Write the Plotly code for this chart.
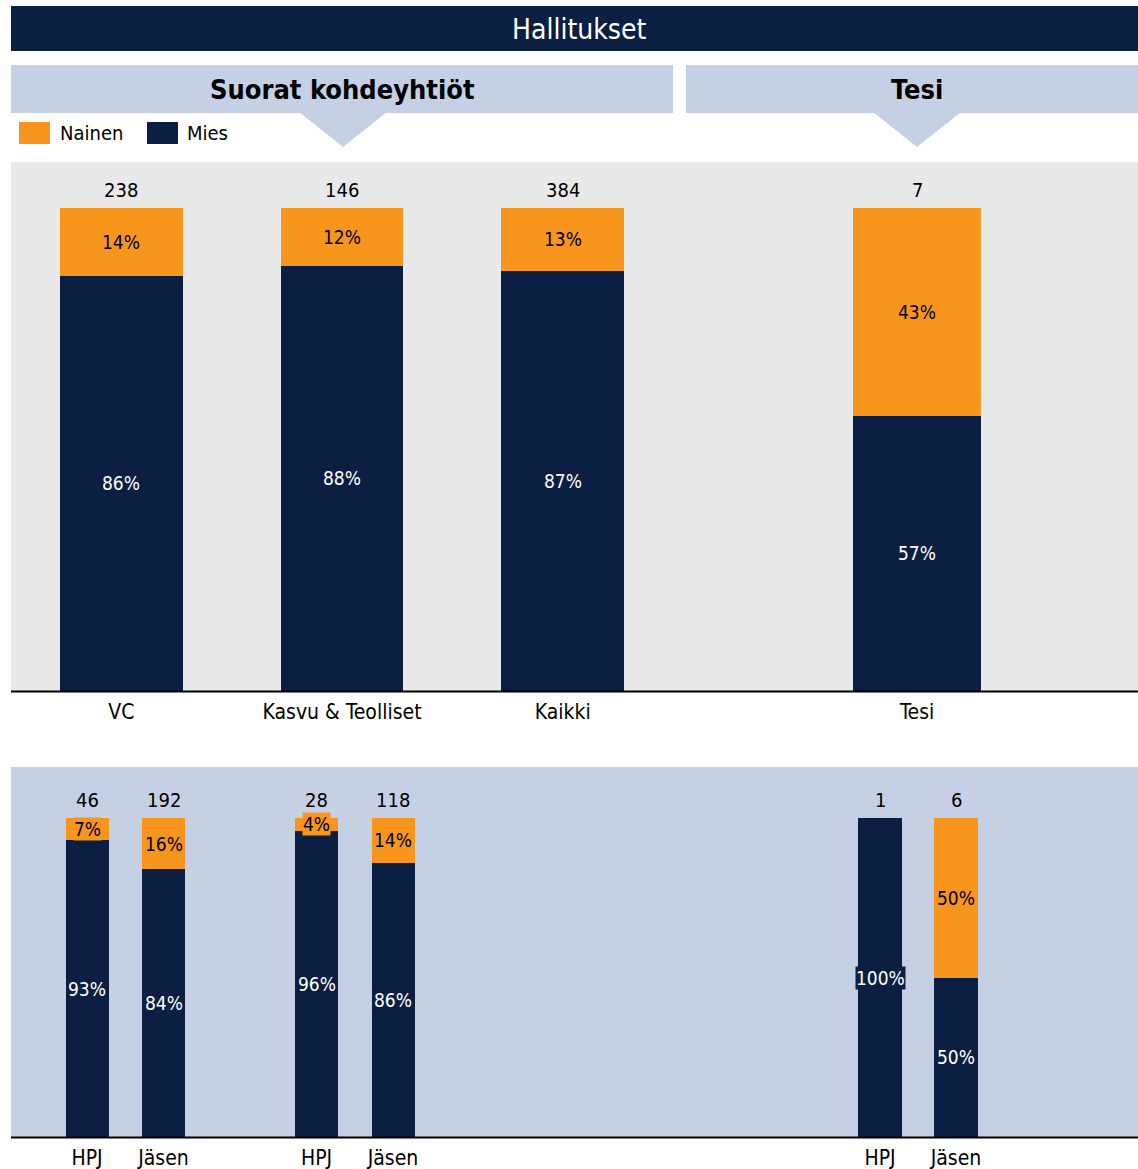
import plotly.graph_objects as go

# ---------------- data ----------------
top_categories = ["VC", "Kasvu & Teolliset", "Kaikki"]
top_totals = [238, 146, 384]
top_nainen = [14, 12, 13]
top_mies = [86, 88, 87]

tesi_categories = ["Tesi"]
tesi_totals = [7]
tesi_nainen = [43]
tesi_mies = [57]

bottom_ids = ["VC|HPJ", "VC|Jäsen", "Kasvu|HPJ", "Kasvu|Jäsen"]
bottom_labels = ["HPJ", "Jäsen", "HPJ", "Jäsen"]
bottom_totals = [46, 192, 28, 118]
bottom_nainen = [7, 16, 4, 14]
bottom_mies = [93, 84, 96, 86]

tesi_bottom_ids = ["Tesi|HPJ", "Tesi|Jäsen"]
tesi_bottom_labels = ["HPJ", "Jäsen"]
tesi_bottom_totals = [1, 6]
tesi_bottom_nainen = [0, 50]
tesi_bottom_mies = [100, 50]

# ---------------- style ----------------
W, H = 1138, 1169
NAVY = "#0B1F42"
ORANGE = "#F8951D"
LIGHT = "#C5D0E4"
GREY = "#E9E9E9"
FONT = "DejaVu Sans Condensed, DejaVu Sans, sans-serif"
FS = 20
FS_PCT = 19
FS_TICK = 21


def px(x):
    return x / W


def py(y):
    return 1 - y / H


fig = go.Figure()

panels = [
    # (x ids, tick labels, totals, nainen, mies, axis suffix, bar width)
    (top_categories, top_categories, top_totals, top_nainen, top_mies, "", 0.557),
    (tesi_categories, tesi_categories, tesi_totals, tesi_nainen, tesi_mies, "2", 0.579),
    (bottom_ids, bottom_labels, bottom_totals, bottom_nainen, bottom_mies, "3", 0.562),
    (tesi_bottom_ids, tesi_bottom_labels, tesi_bottom_totals, tesi_bottom_nainen,
     tesi_bottom_mies, "4", 0.566),
]

annotations = []
for ids, labels, totals, nainen, mies, sfx, wdt in panels:
    xa = "x" + sfx
    ya = "y" + sfx
    fig.add_trace(go.Bar(x=ids, y=mies, name="Mies", marker_color=NAVY,
                         marker_line_width=0, width=wdt, xaxis=xa, yaxis=ya,
                         showlegend=False, hoverinfo="skip"))
    fig.add_trace(go.Bar(x=ids, y=nainen, name="Nainen", marker_color=ORANGE,
                         marker_line_width=0, width=wdt, xaxis=xa, yaxis=ya,
                         showlegend=False, hoverinfo="skip"))
    for xi, t, n, m in zip(ids, totals, nainen, mies):
        annotations.append(dict(x=xi, y=n + m, xref=xa, yref=ya, text=str(t),
                                showarrow=False, yanchor="bottom", yshift=4,
                                font=dict(family=FONT, size=FS, color="black")))
        annotations.append(dict(x=xi, y=m / 2, xref=xa, yref=ya, text=f"{m}%",
                                showarrow=False, bgcolor=NAVY, borderpad=0,
                                font=dict(family=FONT, size=FS_PCT, color="white")))
        if n > 0:
            annotations.append(dict(x=xi, y=m + n / 2, xref=xa, yref=ya,
                                    text=f"{n}%", showarrow=False, bgcolor=ORANGE,
                                    borderpad=0,
                                    font=dict(family=FONT, size=FS_PCT, color="black")))


def label(x, y, text, size, color, xanchor="center"):
    return dict(x=px(x), y=py(y), xref="paper", yref="paper", text=text,
                xanchor=xanchor, yanchor="middle", showarrow=False,
                font=dict(family=FONT, size=size, color=color))


annotations += [
    label(579, 29, "Hallitukset", 28, "white"),
    label(342, 90, "<b>Suorat kohdeyhtiöt</b>", 27, "black"),
    label(917, 90, "<b>Tesi</b>", 27, "black"),
    label(58, 133, "Nainen", FS, "black", "left"),
    label(185, 133, "Mies", FS, "black", "left"),
]


def rect(x0, y0, x1, y1, color):
    return dict(type="rect", xref="paper", yref="paper", x0=px(x0), x1=px(x1),
                y0=py(y1), y1=py(y0), fillcolor=color, line_width=0, layer="below")


def tri(xl, xr, xt, yb, yt, color):
    path = f"M {px(xl)},{py(yb)} L {px(xr)},{py(yb)} L {px(xt)},{py(yt)} Z"
    return dict(type="path", xref="paper", yref="paper", path=path,
                fillcolor=color, line_width=0, layer="below")


def hline(x0, x1, y, color, width):
    return dict(type="line", xref="paper", yref="paper", x0=px(x0), x1=px(x1),
                y0=py(y), y1=py(y), line=dict(color=color, width=width), layer="above")


shapes = [
    rect(11, 6, 1138, 51, NAVY),
    rect(11, 65, 673, 113, LIGHT),
    tri(299, 387, 343, 112, 147, LIGHT),
    rect(686, 65, 1138, 113, LIGHT),
    tri(873, 961, 917, 112, 147, LIGHT),
    rect(19, 122, 50, 144, ORANGE),
    rect(147, 122, 178, 144, NAVY),
    rect(11, 162, 1138, 691, GREY),
    rect(11, 767, 1138, 1137, LIGHT),
    hline(11, 1138, 691.5, "black", 2),
    hline(11, 1138, 1137.5, "black", 2),
]

xcommon = dict(showgrid=False, zeroline=False, showline=False, ticks="outside",
               ticklen=2, tickcolor="rgba(0,0,0,0)", fixedrange=True,
               tickfont=dict(family=FONT, size=FS_TICK, color="black"), type="category")
ycommon = dict(visible=False, fixedrange=True, showgrid=False, zeroline=False)

fig.update_layout(
    width=W, height=H,
    margin=dict(l=0, r=0, t=0, b=0),
    paper_bgcolor="white", plot_bgcolor="rgba(0,0,0,0)",
    barmode="stack",
    showlegend=False,
    annotations=annotations,
    shapes=shapes,
    xaxis=dict(xcommon, domain=[px(11), px(673)], range=[-0.5, 2.5], anchor="y",
               categoryorder="array", categoryarray=top_categories),
    xaxis2=dict(xcommon, domain=[px(686), px(1138)],
                range=[(686 - 917) / 221, (1138 - 917) / 221], anchor="y2"),
    xaxis3=dict(xcommon, domain=[px(11), px(673)],
                range=[(11 - 87) / 76.5, (673 - 87) / 76.5], anchor="y3",
                categoryorder="array",
                categoryarray=bottom_ids[:2] + [" "] + bottom_ids[2:],
                tickvals=bottom_ids, ticktext=bottom_labels),
    xaxis4=dict(xcommon, domain=[px(686), px(1138)],
                range=[(686 - 880) / 76, (1138 - 880) / 76], anchor="y4",
                tickvals=tesi_bottom_ids, ticktext=tesi_bottom_labels),
    yaxis=dict(ycommon, domain=[py(691), py(162)], range=[0, 109.5], anchor="x"),
    yaxis2=dict(ycommon, domain=[py(691), py(162)], range=[0, 109.5], anchor="x2"),
    yaxis3=dict(ycommon, domain=[py(1137), py(767)], range=[0, 116], anchor="x3"),
    yaxis4=dict(ycommon, domain=[py(1137), py(767)], range=[0, 116], anchor="x4"),
)

fig.write_html("out.html",
               config={"displayModeBar": False},
               post_script="document.body.style.margin='0px';"
                           "document.body.style.overflow='hidden';")
